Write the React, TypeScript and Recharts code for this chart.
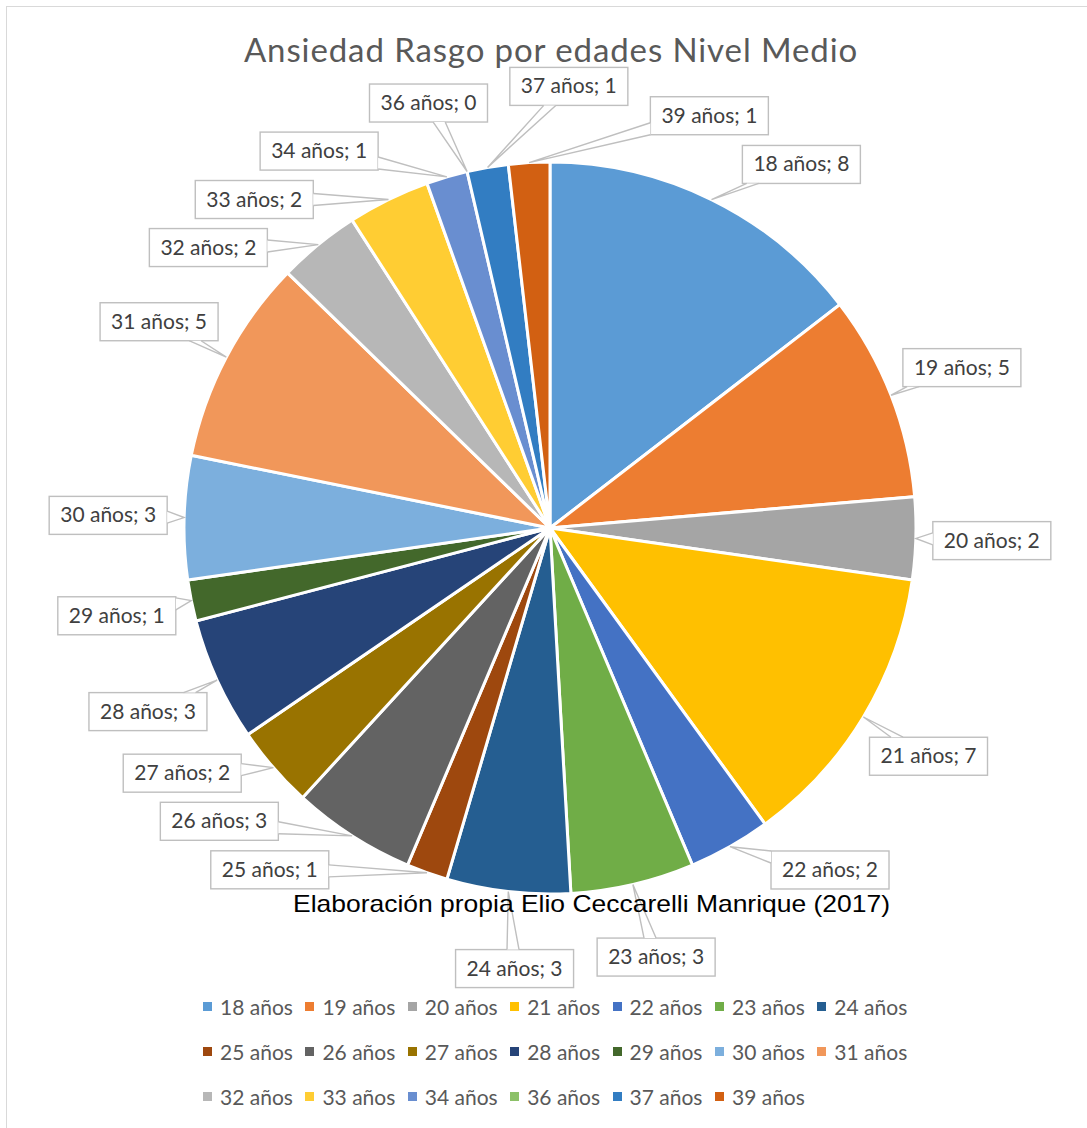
import React from "react";
import { Cell, Legend, Pie, PieChart } from "recharts";

const ages = [
  "18 años", "19 años", "20 años", "21 años", "22 años", "23 años", "24 años",
  "25 años", "26 años", "27 años", "28 años", "29 años", "30 años", "31 años",
  "32 años", "33 años", "34 años", "36 años", "37 años", "39 años",
];
const counts = [8, 5, 2, 7, 2, 3, 3, 1, 3, 2, 3, 1, 3, 5, 2, 2, 1, 0, 1, 1];
const colors = [
  "#5B9BD5", "#ED7D31", "#A5A5A5", "#FFC000", "#4472C4", "#70AD47", "#255E91",
  "#9E480E", "#636363", "#997300", "#264478", "#43682B", "#7CAFDD", "#F1975A",
  "#B7B7B7", "#FFCD33", "#698ED0", "#8CC168", "#327DC2", "#D26012",
];

const title = "Ansiedad Rasgo por edades Nivel Medio";
const source = "Elaboración propia Elio Ceccarelli Manrique (2017)";

const pieData = ages.map((name, i) => ({ name, value: counts[i] }));

const W = 1087;
const H = 1128;
const CX = 550;
const CY = 528;
const R = 366;
const LABEL_R = 442;
const BOX_H = 38;
const FONT = "Lato, 'Open Sans', sans-serif";
const GRID = "#bfbfbf";

// where the source note is written, so the label boxes keep clear of it
const SRC_X = 591.5;
const SRC_Y = 912;
const SRC_W = 597;
const noteBox = { x0: SRC_X - SRC_W / 2, x1: SRC_X + SRC_W / 2, y0: SRC_Y - 19, y1: SRC_Y + 6 };

const labelText = (i: number) => `${ages[i]}; ${counts[i]}`;

// spread the label boxes round the pie so they do not overlap
function layoutLabels() {
  const total = counts.reduce((a, b) => a + b, 0);
  let cum = 0;
  const boxes = counts.map((v, i) => {
    const ang = ((cum + v / 2) / total) * 2 * Math.PI;
    cum += v;
    return { ang, w: labelText(i).length * 9.4 + 24 };
  });
  const pos = (a: number) => ({
    x: CX + LABEL_R * Math.sin(a),
    y: CY - LABEL_R * Math.cos(a),
  });
  const hit = (a: { ang: number; w: number }, b: { ang: number; w: number }) => {
    const p = pos(a.ang);
    const q = pos(b.ang);
    return (
      Math.abs(p.x - q.x) < (a.w + b.w) / 2 + 22 &&
      Math.abs(p.y - q.y) < BOX_H + 10
    );
  };
  const onNote = (b: { ang: number; w: number }) => {
    const p = pos(b.ang);
    return (
      p.x + b.w / 2 > noteBox.x0 - 4 &&
      p.x - b.w / 2 < noteBox.x1 + 4 &&
      p.y + BOX_H / 2 > noteBox.y0 - 4 &&
      p.y - BOX_H / 2 < noteBox.y1 + 4
    );
  };
  for (let it = 0; it < 5000; it++) {
    let moved = false;
    for (const b of boxes) {
      if (onNote(b)) {
        b.ang += b.ang < Math.PI ? -0.002 : 0.002;
        moved = true;
      }
    }
    for (let i = 0; i < boxes.length; i++) {
      const a = boxes[i];
      const b = boxes[(i + 1) % boxes.length];
      if (hit(a, b)) {
        a.ang -= 0.002;
        b.ang += 0.002;
        moved = true;
      }
    }
    if (!moved) break;
  }
  return boxes.map((b) => ({ ...pos(b.ang), w: b.w }));
}

const labelBoxes = layoutLabels();

const RAD = Math.PI / 180;

function renderLabel(props: any) {
  const { cx, cy, midAngle, outerRadius, index } = props;
  const ax = cx + outerRadius * Math.cos(-midAngle * RAD);
  const ay = cy + outerRadius * Math.sin(-midAngle * RAD);
  const box = labelBoxes[index];
  const dx = ax - box.x;
  const dy = ay - box.y;
  const tx = Math.abs(dx) > 1e-6 ? box.w / 2 / Math.abs(dx) : Infinity;
  const ty = Math.abs(dy) > 1e-6 ? BOX_H / 2 / Math.abs(dy) : Infinity;
  let p1: number[];
  let p2: number[];
  if (tx < ty) {
    const ex = box.x + dx * tx;
    const ey = Math.max(box.y - BOX_H / 2 + 6, Math.min(box.y + BOX_H / 2 - 6, box.y + dy * tx));
    p1 = [ex, ey - 6];
    p2 = [ex, ey + 6];
  } else {
    const ey = box.y + dy * ty;
    const ex = Math.max(box.x - box.w / 2 + 6, Math.min(box.x + box.w / 2 - 6, box.x + dx * ty));
    p1 = [ex - 6, ey];
    p2 = [ex + 6, ey];
  }
  return (
    <g key={`lbl-${index}`}>
      <rect
        x={box.x - box.w / 2}
        y={box.y - BOX_H / 2}
        width={box.w}
        height={BOX_H}
        fill="#fff"
        stroke={GRID}
        strokeWidth={1.4}
      />
      <path
        d={`M${p1[0]},${p1[1]} L${ax},${ay} L${p2[0]},${p2[1]}`}
        fill="#fff"
        stroke={GRID}
        strokeWidth={1.4}
      />
      <text
        x={box.x}
        y={box.y + 7}
        textAnchor="middle"
        fontFamily={FONT}
        fontSize={21}
        fill="#404040"
      >
        {labelText(index)}
      </text>
    </g>
  );
}

function LegendGrid(props: any) {
  const items = props.payload ?? [];
  return (
    <div
      style={{
        display: "grid",
        gridTemplateColumns: "repeat(7, 102.4px)",
        marginLeft: 203,
        fontFamily: FONT,
        fontSize: 21,
        color: "#595959",
      }}
    >
      {items.map((it: any) => (
        <div key={it.value} style={{ height: 45, display: "flex", alignItems: "center" }}>
          <span
            style={{
              width: 9,
              height: 9,
              background: it.color,
              display: "inline-block",
              marginRight: 8,
            }}
          />
          <span>{it.value}</span>
        </div>
      ))}
    </div>
  );
}

export default function App() {
  return (
    <div
      style={{
        position: "absolute",
        left: 0,
        top: 0,
        width: W,
        height: H,
        overflow: "hidden",
        background: "#fff",
      }}
    >
      <div
        style={{
          position: "absolute",
          left: 6,
          top: 6,
          width: W + 10,
          height: H + 10,
          border: "1.5px solid #d9d9d9",
        }}
      />
      <PieChart width={W} height={H} margin={{ top: 0, right: 0, bottom: 0, left: 0 }}>
        <text
          x={551}
          y={62}
          textAnchor="middle"
          fontFamily={FONT}
          fontSize={33}
          letterSpacing={0.9}
          fill="#595959"
        >
          {title}
        </text>
        <Pie
          data={pieData}
          dataKey="value"
          nameKey="name"
          cx={CX}
          cy={CY}
          outerRadius={R}
          startAngle={90}
          endAngle={-270}
          stroke="#fff"
          strokeWidth={3}
          label={renderLabel}
          labelLine={false}
          isAnimationActive={false}
        >
          {pieData.map((d, i) => (
            <Cell key={d.name} fill={colors[i]} />
          ))}
        </Pie>
        <Legend
          verticalAlign="bottom"
          content={LegendGrid}
          wrapperStyle={{ top: 984, bottom: "auto", left: 0, width: W }}
        />
      </PieChart>
      {/* the source note sits above the label boxes, as in the original */}
      <svg
        width={W}
        height={H}
        style={{ position: "absolute", left: 0, top: 0, pointerEvents: "none" }}
      >
        <text
          x={SRC_X}
          y={SRC_Y}
          textAnchor="middle"
          textLength={SRC_W}
          lengthAdjust="spacingAndGlyphs"
          fontFamily="'Liberation Sans', Arial, sans-serif"
          fontSize={24}
          fill="#000"
        >
          {source}
        </text>
      </svg>
    </div>
  );
}
